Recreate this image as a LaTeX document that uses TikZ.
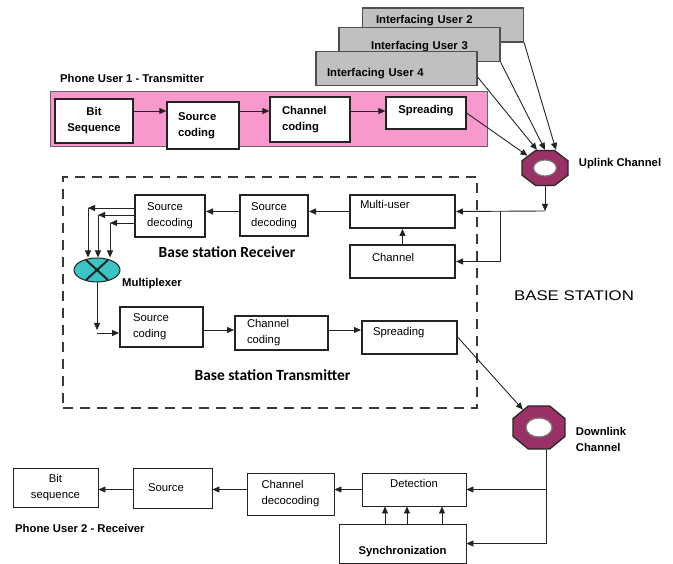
\documentclass[tikz,border=0pt]{standalone}
\usepackage{fontspec}
\setmainfont{Liberation Sans}
\newfontfamily\calfont{Carlito}
\usetikzlibrary{arrows.meta, positioning, shapes.geometric}

\definecolor{pinkbg}{RGB}{247,153,204}
\definecolor{usrgray}{RGB}{192,192,192}
\definecolor{octred}{RGB}{153,48,102}
\definecolor{muxcyan}{RGB}{58,196,196}
\definecolor{ink}{RGB}{35,35,35}

\tikzset{
  txt/.style={font=\fontsize{11.3}{16}\selectfont},
  btxt/.style={font=\fontsize{11.3}{16}\selectfont\bfseries},
  blk/.style 2 args={draw=ink, fill=white, minimum width=#1pt, minimum height=#2pt, inner sep=1pt, align=left},
  txbox/.style 2 args={blk={#1}{#2}, btxt, line width=1.2pt},
  bsbox/.style 2 args={blk={#1}{#2}, txt, line width=2pt},
  rxbox/.style 2 args={blk={#1}{#2}, txt, line width=0.9pt},
  usrbox/.style={draw=ink!80, fill=usrgray, line width=1.2pt, minimum width=161pt, minimum height=34pt, inner sep=1pt, align=left, btxt},
  octo/.style 2 args={regular polygon, regular polygon sides=8, draw=ink, fill=octred, line width=1.2pt, inner sep=0pt,
    path picture={\fill[white, draw=ink!60] (path picture bounding box.center) ellipse [x radius=#1pt, y radius=#2pt];}},
  muxnode/.style={ellipse, draw=ink, fill=muxcyan, line width=1pt, inner sep=0pt,
    path picture={\draw[line width=2pt] ([shift={(-11pt,10pt)}]path picture bounding box.center) -- ([shift={(11pt,-10pt)}]path picture bounding box.center)
      ([shift={(11pt,10pt)}]path picture bounding box.center) -- ([shift={(-11pt,-10pt)}]path picture bounding box.center);}},
  arr/.style={draw=ink, line width=0.9pt, -{Triangle[length=7pt, width=6pt]}},
  lbl/.style={btxt, inner sep=0pt},
  bslbl/.style={font=\calfont\fontsize{15.5}{18}\selectfont\bfseries, inner sep=0pt},
}

\begin{document}
\begin{tikzpicture}[x=1pt, y=-1pt]
  \useasboundingbox (0,0) rectangle (673,564);

  % interfacing users, back to front
  \node[usrbox, inner xsep=13pt, text width=134pt, text height=8.5pt, text depth=10.5pt] (ifu2) at (443,25) {Interfacing User 2};
  \node[usrbox, align=center, text width=140pt, text height=13.5pt, text depth=2.5pt] (ifu3) at (419.5,44.5) {Interfacing User 3};
  \node[usrbox, inner xsep=11pt, text width=139pt, text height=19pt, text depth=2.5pt] (ifu4) at (396.5,68.5) {Interfacing User 4};

  % phone user 1
  \node[lbl, anchor=west] (pu1) at (60,78) {Phone User 1 - Transmitter};
  \node[draw=ink!70, fill=pinkbg, line width=1pt, minimum width=437pt, minimum height=55pt] (pink) at (268.5,119.5) {};
  \node[txbox={78}{44}, align=center] (bit1) at (94,121) {Bit\\Sequence};
  \node[txbox={72}{47}, inner xsep=11pt, text width=50pt] (src1) at (203,125.5) {Source\\coding};
  \node[txbox={80}{45}, inner xsep=12pt, text width=56pt] (chc1) at (310,119.5) {Channel\\coding};
  \node[txbox={80}{32}, align=center, text height=8.5pt, text depth=6.5pt] (spr1) at (426,113) {Spreading};
  \draw[arr] (bit1.east |- 0,111) -- (src1.west |- 0,111);
  \draw[arr] (src1.east |- 0,111) -- (chc1.west |- 0,111);
  \draw[arr] (chc1.east |- 0,111) -- (spr1.west |- 0,111);

  % uplink
  \node[octo={8.75}{8}, minimum size=37.9pt, xscale=1.31] (upl) at (545,168) {};
  \node[lbl, right=10pt of upl, yshift=4pt] (uplt) {Uplink Channel};
  \draw[arr] (spr1.east) -- (upl);
  \draw[arr] (ifu4.east |- 0,77) -- ([xshift=-8pt]upl.north);
  \draw[arr] (ifu3.south east) -- (upl.north);
  \draw[arr] (ifu2.south east) -- ([xshift=11pt]upl.north);

  % base station
  \node[draw=ink!90, line width=2pt, dash pattern=on 10pt off 7pt, minimum width=414pt, minimum height=231pt] (bs) at (270,292.5) {};
  \node[font=\fontsize{14}{16}\selectfont, xscale=1.2] (bsname) at (574,296) {BASE STATION};

  \node[bsbox={105}{33}, inner xsep=10pt, text width=85pt, text height=8.5pt, text depth=13.5pt] (mu) at (402.5,211.5) {Multi-user};
  \node[bsbox={105}{33}, inner xsep=22pt, text width=61pt, text height=8.5pt, text depth=7.5pt] (ch) at (402.5,261.5) {Channel};
  \node[bsbox={68}{41}] (sd2) at (274,215.5) {Source\\decoding};
  \node[bsbox={70}{42}] (sd1) at (170,216) {Source\\decoding};
  \node[bslbl] (bsrx) at (227,252) {Base station Receiver};

  \coordinate (ujn) at (545,211);
  \coordinate (ubr) at (500,211);
  \draw[arr] (upl.south) -- (ujn);
  \draw[arr] (ujn) -- (mu.east);
  \draw[arr] (ubr) |- (ch.east);
  \draw[arr] (ch.north) -- (mu.south);
  \draw[arr] (mu.west) -- (sd2.east |- mu.west);
  \draw[arr] (sd2.west |- mu.west) -- (sd1.east |- mu.west);

  \node[muxnode, minimum width=46pt, minimum height=24pt] (mux) at (97,270) {};
  \node[lbl, anchor=west] (muxt) at (122,284) {Multiplexer};
  \foreach \yy/\xx in {208/88, 215/98, 223/110} {
    \draw[arr] (sd1.west |- 0,\yy) -- (\xx,\yy);
    \draw[arr] (\xx,\yy) -- (mux.north -| \xx,0);
  }

  \node[bsbox={83}{40}, inner xsep=13pt, text width=57pt] (sc2) at (161.5,327) {Source\\coding};
  \node[bsbox={93}{34}, inner xsep=12pt, text width=69pt] (cc2) at (281.5,333) {Channel\\coding};
  \node[bsbox={95}{33}, inner xsep=11pt, text width=73pt, text height=8.5pt, text depth=11.5pt] (sp2) at (409.5,337.5) {Spreading};
  \node[bslbl] (bstx) at (272.5,375) {Base station Transmitter};

  \draw[arr] (mux.south) -- (mux.south |- 0,330);
  \draw[arr] (mux.south |- 0,333) -- (sc2.west |- 0,333);
  \draw[arr] (sc2.east |- 0,330) -- (cc2.west |- 0,330);
  \draw[arr] (cc2.east |- 0,330) -- (sp2.west |- 0,330);

  % downlink
  \node[octo={10.75}{9.5}, minimum size=46.5pt, xscale=1.21] (dnl) at (539,427.5) {};
  \node[lbl, right=10pt of dnl, yshift=-12pt, align=left] (dnlt) {Downlink\\Channel};
  \draw[arr] (sp2.east) -- (dnl);

  % phone user 2
  \node[rxbox={104}{33}, align=center, text height=8.5pt, text depth=13.5pt] (det) at (414,489.5) {Detection};
  \node[rxbox={127}{39}, btxt, align=center, text height=23.5pt, text depth=2.5pt] (syn) at (402.5,543.5) {Synchronization};
  \node[rxbox={87}{42}, inner xsep=14pt, text width=58pt] (cd3) at (290.5,494) {Channel\\decocoding};
  \node[rxbox={79}{40}, inner xsep=15pt, text width=49pt] (src3) at (172.5,488) {Source};
  \node[rxbox={85}{39}, align=center] (bit3) at (55.5,487.5) {Bit\\sequence};
  \node[lbl, anchor=west] (pu2) at (15,528) {Phone User 2 - Receiver};

  \draw[arr] ([xshift=7pt]dnl.south) |- (det.east);
  \draw[arr] ([xshift=7pt]dnl.south) |- (syn.east);
  \foreach \xx in {385, 407, 442}
    \draw[arr] (syn.north -| \xx,0) -- (det.south -| \xx,0);
  \draw[arr] (det.west) -- (cd3.east |- det.west);
  \draw[arr] (cd3.west |- det.west) -- (src3.east |- det.west);
  \draw[arr] (src3.west |- det.west) -- (bit3.east |- det.west);
\end{tikzpicture}
\end{document}
